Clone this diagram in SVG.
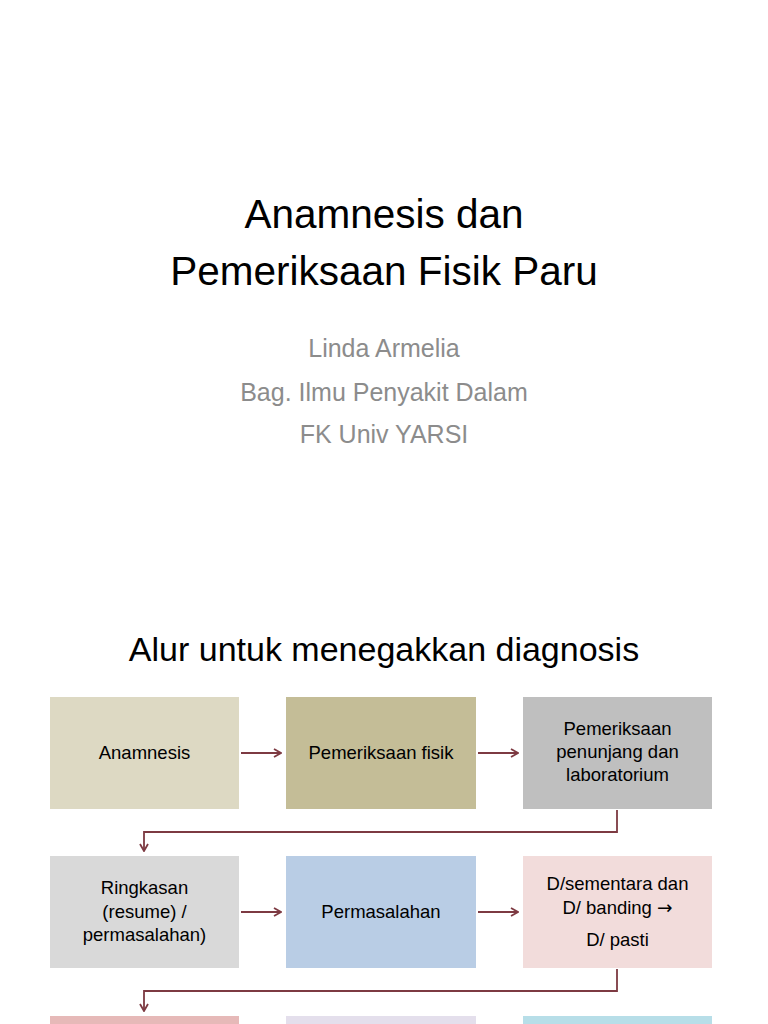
<svg xmlns="http://www.w3.org/2000/svg" width="768" height="1024" viewBox="0 0 768 1024">
<defs>
<style>
text{font-family:"Liberation Sans",Arial,sans-serif;text-anchor:middle}
.title{font-size:40.5px;fill:#000}
.sub{font-size:25px;fill:#8c8c8c}
.head{font-size:34px;fill:#000}
.lbl{font-size:18.5px;fill:#000}
.sym{font-family:"DejaVu Sans",sans-serif}
.conn{fill:none;stroke:#7d3a42;stroke-width:1.8}
</style>
<marker id="arr" viewBox="0 0 10 10" refX="9" refY="5" markerWidth="10" markerHeight="10" markerUnits="userSpaceOnUse" orient="auto">
<path d="M2,1 L9,5 L2,9" fill="none" stroke="#7d3a42" stroke-width="1.8"/>
</marker>
</defs>
<rect width="768" height="1024" fill="#fff"/>
<g id="title">
<text class="title" x="384" y="228">Anamnesis dan</text>
<text class="title" x="384" y="285">Pemeriksaan Fisik Paru</text>
</g>
<g id="subtitle">
<text class="sub" x="384" y="357">Linda Armelia</text>
<text class="sub" x="384" y="401">Bag. Ilmu Penyakit Dalam</text>
<text class="sub" x="384" y="443">FK Univ YARSI</text>
</g>
<g id="heading">
<text class="head" x="384" y="661">Alur untuk menegakkan diagnosis</text>
</g>
<g id="n-anamnesis">
<rect x="50" y="697" width="189" height="112" fill="#ddd9c3"/>
<text class="lbl" x="144.5" y="759">Anamnesis</text>
</g>
<g id="n-fisik">
<rect x="286" y="697" width="190" height="112" fill="#c4bd97"/>
<text class="lbl" x="381" y="759">Pemeriksaan fisik</text>
</g>
<g id="n-penunjang">
<rect x="523" y="697" width="189" height="112" fill="#bfbfbf"/>
<text class="lbl" x="617.5" y="735">Pemeriksaan</text>
<text class="lbl" x="617.5" y="758">penunjang dan</text>
<text class="lbl" x="617.5" y="781">laboratorium</text>
</g>
<g id="n-ringkasan">
<rect x="50" y="856" width="189" height="112" fill="#d9d9d9"/>
<text class="lbl" x="144.5" y="894">Ringkasan</text>
<text class="lbl" x="144.5" y="918">(resume) /</text>
<text class="lbl" x="144.5" y="941">permasalahan)</text>
</g>
<g id="n-permasalahan">
<rect x="286" y="856" width="190" height="112" fill="#b9cde5"/>
<text class="lbl" x="381" y="918">Permasalahan</text>
</g>
<g id="n-diagnosis">
<rect x="523" y="856" width="189" height="112" fill="#f2dcdb"/>
<text class="lbl" x="617.5" y="890">D/sementara dan</text>
<text class="lbl" x="617.5" y="914">D/ banding <tspan class="sym">→</tspan></text>
<text class="lbl" x="617.5" y="946">D/ pasti</text>
</g>
<g id="n-row3-1">
<rect x="50" y="1016" width="189" height="112" fill="#e6b9b8"/>
</g>
<g id="n-row3-2">
<rect x="286" y="1016" width="190" height="112" fill="#e4dfec"/>
</g>
<g id="n-row3-3">
<rect x="523" y="1016" width="189" height="112" fill="#b7dee8"/>
</g>
<g id="connectors">
<path class="conn" d="M241,753 H281" marker-end="url(#arr)"/>
<path class="conn" d="M478,753 H518" marker-end="url(#arr)"/>
<path class="conn" d="M241,912 H281" marker-end="url(#arr)"/>
<path class="conn" d="M478,912 H518" marker-end="url(#arr)"/>
<path class="conn" d="M617,810 V832 H144 V851" marker-end="url(#arr)"/>
<path class="conn" d="M617,969 V991 H144 V1011" marker-end="url(#arr)"/>
</g>
</svg>
